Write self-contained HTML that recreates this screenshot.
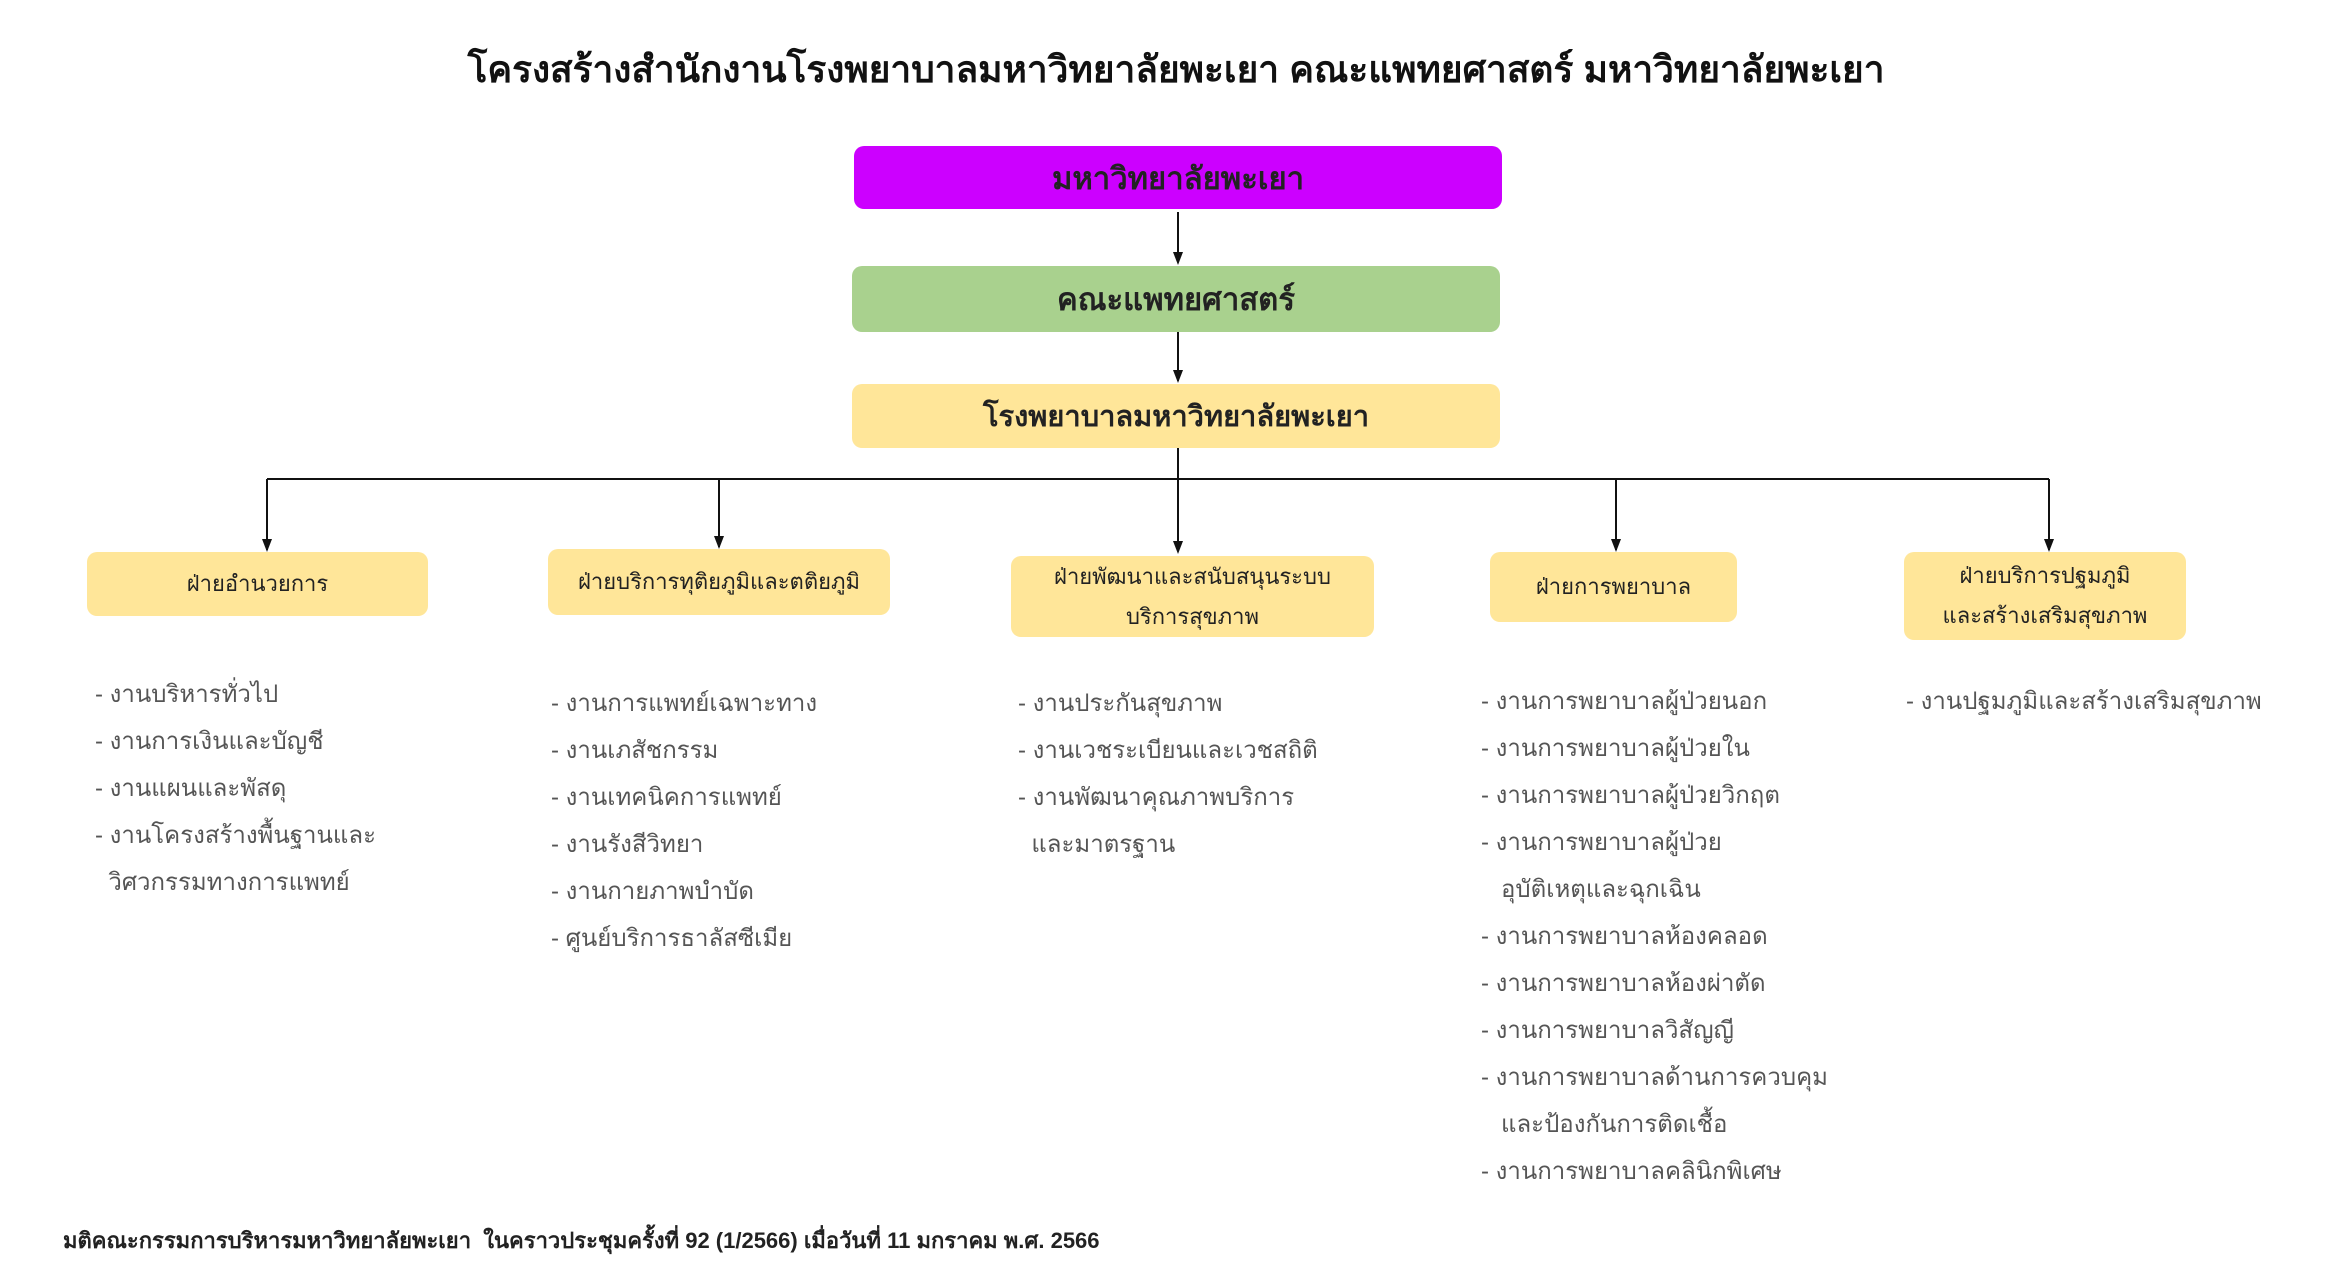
<!DOCTYPE html>
<html><head><meta charset="utf-8"><style>
body{margin:0;width:2352px;height:1287px;background:#fff;position:relative;overflow:hidden;font-family:"Liberation Sans","DejaVu Sans",sans-serif;}
.t{position:absolute;white-space:nowrap;}
.box{position:absolute;border-radius:10px;display:flex;align-items:center;justify-content:center;text-align:center;color:#222;}
.y{background:#ffe699;font-size:22px;line-height:40px;}
.l{position:absolute;font-size:24px;color:#555;line-height:47px;white-space:nowrap;}
</style></head><body>
<div class="t" style="left:0;width:2352px;top:40px;text-align:center;font-size:37px;font-weight:bold;color:#111;">โครงสร้างสำนักงานโรงพยาบาลมหาวิทยาลัยพะเยา คณะแพทยศาสตร์ มหาวิทยาลัยพะเยา</div>
<div class="box" style="left:854px;top:146px;width:648px;height:63px;background:#cc00ff;font-size:31px;font-weight:bold;">มหาวิทยาลัยพะเยา</div>
<div class="box" style="left:852px;top:266px;width:648px;height:66px;background:#a9d18e;font-size:31px;font-weight:bold;">คณะแพทยศาสตร์</div>
<div class="box" style="left:852px;top:384px;width:648px;height:64px;background:#ffe699;font-size:29px;font-weight:bold;">โรงพยาบาลมหาวิทยาลัยพะเยา</div>
<svg style="position:absolute;left:0;top:0" width="2352" height="1287">
<g stroke="#111" stroke-width="2" fill="none">
<line x1="1178" y1="212" x2="1178" y2="262"/>
<line x1="1178" y1="332" x2="1178" y2="381"/>
<line x1="1178" y1="448" x2="1178" y2="479"/>
<line x1="267" y1="479" x2="2049" y2="479"/>
<line x1="267" y1="479" x2="267" y2="550"/>
<line x1="719" y1="479" x2="719" y2="547"/>
<line x1="1178" y1="479" x2="1178" y2="550"/>
<line x1="1616" y1="479" x2="1616" y2="550"/>
<line x1="2049" y1="479" x2="2049" y2="550"/>
</g>
<g fill="#111">
<path d="M1173,252 L1183,252 L1178,265z"/>
<path d="M1173,370 L1183,370 L1178,383z"/>
<path d="M262,539 L272,539 L267,552z"/>
<path d="M714,536 L724,536 L719,549z"/>
<path d="M1173,541 L1183,541 L1178,554z"/>
<path d="M1611,539 L1621,539 L1616,552z"/>
<path d="M2044,539 L2054,539 L2049,552z"/>
</g>
</svg>
<div class="box y" style="left:87px;top:552px;width:341px;height:64px;">ฝ่ายอำนวยการ</div>
<div class="box y" style="left:548px;top:549px;width:342px;height:66px;">ฝ่ายบริการทุติยภูมิและตติยภูมิ</div>
<div class="box y" style="left:1011px;top:556px;width:363px;height:81px;">ฝ่ายพัฒนาและสนับสนุนระบบ<br>บริการสุขภาพ</div>
<div class="box y" style="left:1490px;top:552px;width:247px;height:70px;">ฝ่ายการพยาบาล</div>
<div class="box y" style="left:1904px;top:552px;width:282px;height:88px;">ฝ่ายบริการปฐมภูมิ<br>และสร้างเสริมสุขภาพ</div>
<div class="l" style="left:95px;top:671px;">- งานบริหารทั่วไป<br>- งานการเงินและบัญชี<br>- งานแผนและพัสดุ<br>- งานโครงสร้างพื้นฐานและ<br>&nbsp;&nbsp;วิศวกรรมทางการแพทย์</div>
<div class="l" style="left:551px;top:680px;">- งานการแพทย์เฉพาะทาง<br>- งานเภสัชกรรม<br>- งานเทคนิคการแพทย์<br>- งานรังสีวิทยา<br>- งานกายภาพบำบัด<br>- ศูนย์บริการธาลัสซีเมีย</div>
<div class="l" style="left:1018px;top:680px;">- งานประกันสุขภาพ<br>- งานเวชระเบียนและเวชสถิติ<br>- งานพัฒนาคุณภาพบริการ<br>&nbsp;&nbsp;และมาตรฐาน</div>
<div class="l" style="left:1481px;top:678px;">- งานการพยาบาลผู้ป่วยนอก<br>- งานการพยาบาลผู้ป่วยใน<br>- งานการพยาบาลผู้ป่วยวิกฤต<br>- งานการพยาบาลผู้ป่วย<br>&nbsp;&nbsp;&nbsp;อุบัติเหตุและฉุกเฉิน<br>- งานการพยาบาลห้องคลอด<br>- งานการพยาบาลห้องผ่าตัด<br>- งานการพยาบาลวิสัญญี<br>- งานการพยาบาลด้านการควบคุม<br>&nbsp;&nbsp;&nbsp;และป้องกันการติดเชื้อ<br>- งานการพยาบาลคลินิกพิเศษ</div>
<div class="l" style="left:1906px;top:678px;">- งานปฐมภูมิและสร้างเสริมสุขภาพ</div>
<div class="t" style="left:63px;top:1223px;font-size:22px;font-weight:bold;color:#222;">มติคณะกรรมการบริหารมหาวิทยาลัยพะเยา&nbsp; ในคราวประชุมครั้งที่ 92 (1/2566) เมื่อวันที่ 11 มกราคม พ.ศ. 2566</div>
</body></html>
